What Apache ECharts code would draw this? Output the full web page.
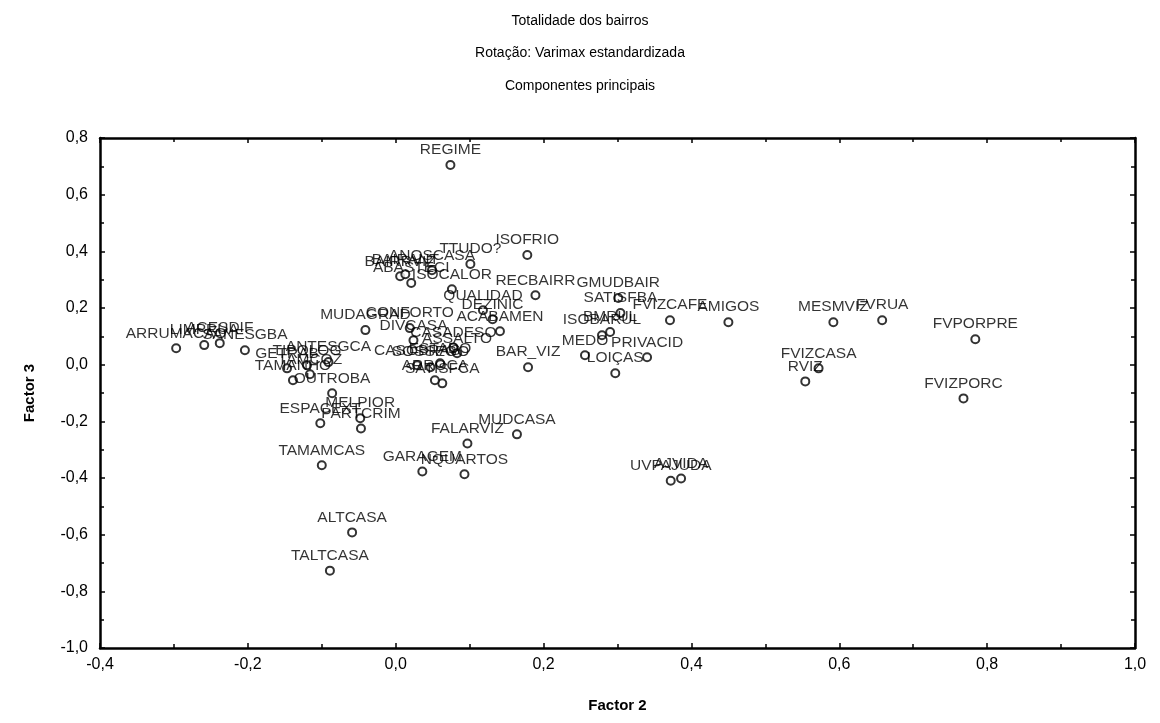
<!DOCTYPE html>
<html>
<head>
<meta charset="utf-8">
<script src="https://cdn.jsdelivr.net/npm/echarts@6/dist/echarts.min.js"></script>
<style>
  html, body { margin: 0; padding: 0; background: #fff; }
  #chart { width: 1160px; height: 723px; }
</style>
</head>
<body>
<div id="chart"></div>
<script>
// variable names and loadings (Factor 2, Factor 3)
const names = [
  'REGIME', 'ISOFRIO', 'TTUDO?', 'ANOSCASA', 'BAIRRVIZ', 'BAIRANT', 'ABASTECI', 'ISOCALOR',
  'RECBAIRR', 'GMUDBAIR', 'SATISFBA', 'FVIZCAFE', 'AMIGOS', 'ISOBARUL', 'BMRUL', 'MEDO',
  'PRIVACID', 'LOIÇAS', 'BAR_VIZ', 'MUDCASA', 'FALARVIZ', 'GARAGEM', 'NQUARTOS', 'UVPAJUDA',
  'AJVIDA', 'MESMVIZ', 'FVRUA', 'FVPORPRE', 'FVIZCASA', 'RVIZ', 'FVIZPORC', 'QUALIDAD',
  'DEZINIC', 'ACABAMEN', 'CONFORTO', 'MUDAGRAD', 'DIVCASA', 'CASADESO', 'ASSALTO', 'CASOBRAS',
  'SATISFCA', 'ARROCA', 'SOSSEGO', 'ESTADO', 'ARRUMACAO', 'LIMPRUA', 'ACESDIF', 'SANESGBA',
  'ANTESGCA', 'GETRAB', 'TIPOLOG', 'TAMANHO', 'TAMCOZ', 'OUTROBA', 'ESPACEXT', 'MELPIOR',
  'PARTCRIM', 'TAMAMCAS', 'ALTCASA', 'TALTCASA'
];
const factor2 = [
  0.074, 0.178, 0.101, 0.049, 0.006, 0.013, 0.021, 0.076,
  0.189, 0.301, 0.304, 0.371, 0.450, 0.279, 0.290, 0.256,
  0.340, 0.297, 0.179, 0.164, 0.097, 0.036, 0.093, 0.372,
  0.386, 0.592, 0.658, 0.784, 0.572, 0.554, 0.768, 0.118,
  0.131, 0.141, 0.019, -0.041, 0.024, 0.078, 0.083, 0.029,
  0.063, 0.053, 0.047, 0.060, -0.297, -0.259, -0.238, -0.204,
  -0.091, -0.147, -0.120, -0.139, -0.116, -0.086, -0.102, -0.048,
  -0.047, -0.100, -0.059, -0.089
];
const factor3 = [
  0.705, 0.387, 0.355, 0.333, 0.312, 0.319, 0.288, 0.266,
  0.245, 0.235, 0.182, 0.157, 0.150, 0.104, 0.115, 0.033,
  0.026, -0.030, -0.009, -0.246, -0.278, -0.377, -0.387, -0.410,
  -0.402, 0.150, 0.157, 0.090, -0.013, -0.059, -0.119, 0.192,
  0.160, 0.118, 0.129, 0.122, 0.086, 0.061, 0.040, -0.002,
  -0.066, -0.055, -0.009, 0.005, 0.058, 0.069, 0.076, 0.051,
  0.009, -0.013, -0.002, -0.055, -0.034, -0.101, -0.207, -0.189,
  -0.225, -0.355, -0.592, -0.727
];
const titles = ['Totalidade dos bairros', 'Rotação: Varimax estandardizada', 'Componentes principais'];

const font = '"Liberation Sans", Arial, sans-serif';
const points = names.map((n, i) => ({ name: n, value: [factor2[i], factor3[i]] }));
const fmt = v => v.toFixed(1).replace('.', ',');

const chart = echarts.init(document.getElementById('chart'));

const frameLine = { show: true, onZero: false, lineStyle: { color: '#000', width: 2.5 } };
const tick = { show: true, inside: true, length: 5, lineStyle: { color: '#000', width: 1.5 } };
const minor = { show: true, splitNumber: 2, length: 4, lineStyle: { color: '#000', width: 1.5 } };

const option = {
  animation: false,
  backgroundColor: '#fff',
  title: titles.map((t, i) => ({
    text: t,
    left: 'center',
    top: 9 + i * 32.5,
    textStyle: { fontFamily: font, fontSize: 14, fontWeight: 'normal', color: '#000' }
  })),
  grid: { left: 100, right: 25, top: 138, bottom: 75 },
  xAxis: [
    {
      type: 'value', min: -0.4, max: 1.0, interval: 0.2,
      name: 'Factor 2', nameLocation: 'middle', nameGap: 50,
      nameTextStyle: { fontFamily: font, fontSize: 15, fontWeight: 'bold', color: '#000' },
      axisLine: frameLine, axisTick: tick, minorTick: minor,
      splitLine: { show: false },
      axisLabel: { fontFamily: font, fontSize: 16, color: '#000', margin: 9, formatter: fmt }
    },
    {
      type: 'value', position: 'top', min: -0.4, max: 1.0, interval: 0.2,
      axisLine: frameLine, axisTick: tick, minorTick: minor,
      splitLine: { show: false }, axisLabel: { show: false }
    }
  ],
  yAxis: [
    {
      type: 'value', min: -1.0, max: 0.8, interval: 0.2,
      name: 'Factor 3', nameLocation: 'middle', nameGap: 63, nameRotate: 90,
      nameTextStyle: { fontFamily: font, fontSize: 15, fontWeight: 'bold', color: '#000' },
      axisLine: frameLine, axisTick: tick, minorTick: minor,
      splitLine: { show: false },
      axisLabel: { fontFamily: font, fontSize: 16, color: '#000', margin: 12, formatter: fmt }
    },
    {
      type: 'value', position: 'right', min: -1.0, max: 0.8, interval: 0.2,
      axisLine: frameLine, axisTick: tick, minorTick: minor,
      splitLine: { show: false }, axisLabel: { show: false }
    }
  ],
  series: [
    {
      type: 'scatter',
      data: points,
      symbol: 'circle',
      symbolSize: 8,
      itemStyle: { color: '#fff', borderColor: '#000', borderWidth: 2 },
      label: {
        show: true,
        position: 'top',
        distance: 2,
        formatter: '{b}',
        fontFamily: font,
        fontSize: 15.5,
        color: '#000'
      }
    }
  ]
};

chart.setOption(option);
</script>
</body>
</html>
